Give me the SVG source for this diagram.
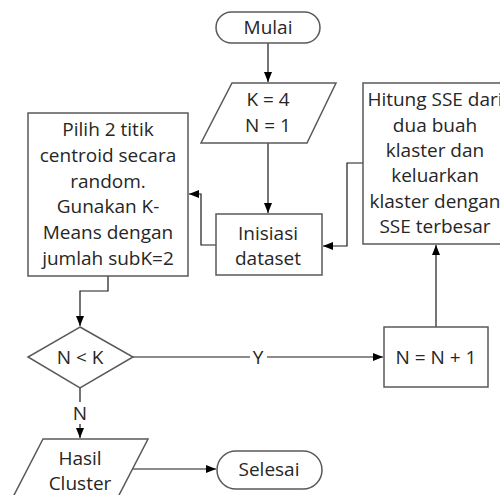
<svg xmlns="http://www.w3.org/2000/svg" width="500" height="495" viewBox="0 0 500 495">
<defs>
<marker id="arr" markerWidth="10" markerHeight="8" refX="10" refY="4" orient="auto" markerUnits="userSpaceOnUse">
<path d="M0,0 L10,4 L0,8 Z" fill="#000"/>
</marker>
<style>
.shape{fill:#fff;stroke:#595959;stroke-width:1.5}
.conn{fill:none;stroke:#1a1a1a;stroke-width:1.2}
text{font-family:"Open Sans","Liberation Sans",sans-serif;font-size:19px;fill:#262626;text-anchor:middle}
</style>
</defs>
<rect width="500" height="495" fill="#fff"/>
<g id="connectors">
<path class="conn" d="M268,43 V82" marker-end="url(#arr)"/>
<path class="conn" d="M268,143 V213" marker-end="url(#arr)"/>
<path class="conn" d="M216,245 H201 V194 H189" marker-end="url(#arr)"/>
<path class="conn" d="M363,163 H347 V246 H323" marker-end="url(#arr)"/>
<path class="conn" d="M108,276 V291 H80 V326" marker-end="url(#arr)"/>
<path class="conn" d="M133,357 H250 M267,357 H383" marker-end="url(#arr)"/>
<path class="conn" d="M436,327 V245" marker-end="url(#arr)"/>
<path class="conn" d="M80,388 V402 M80,424 V438" marker-end="url(#arr)"/>
<path class="conn" d="M133,469 H216" marker-end="url(#arr)"/>
<text x="258" y="364">Y</text>
<text x="80" y="420">N</text>
</g>
<g id="mulai">
<rect class="shape" x="216" y="12" width="104" height="31" rx="15.5"/>
<text x="268" y="34">Mulai</text>
</g>
<g id="input">
<path class="shape" d="M232,83 H336 L307,143 H201 Z"/>
<text x="268" y="106">K = 4</text>
<text x="268" y="132">N = 1</text>
</g>
<g id="inisiasi">
<rect class="shape" x="216" y="214" width="106" height="61"/>
<text x="268" y="240">Inisiasi</text>
<text x="268" y="265">dataset</text>
</g>
<g id="pilih">
<rect class="shape" x="28" y="113" width="160" height="163"/>
<text x="108" y="136">Pilih 2 titik</text>
<text x="108" y="162">centroid secara</text>
<text x="108" y="188">random.</text>
<text x="108" y="213">Gunakan K-</text>
<text x="108" y="239">Means dengan</text>
<text x="108" y="265">jumlah subK=2</text>
</g>
<g id="hitung">
<rect class="shape" x="363" y="83" width="144" height="161"/>
<text x="435" y="106">Hitung SSE dari</text>
<text x="435" y="132">dua buah</text>
<text x="435" y="157">klaster dan</text>
<text x="435" y="182">keluarkan</text>
<text x="435" y="208">klaster dengan</text>
<text x="435" y="233">SSE terbesar</text>
</g>
<g id="decision">
<path class="shape" d="M80,327 L133,357 L80,388 L28,357 Z"/>
<text x="80" y="364">N &lt; K</text>
</g>
<g id="increment">
<rect class="shape" x="384" y="327" width="104" height="60"/>
<text x="436" y="364">N = N + 1</text>
</g>
<g id="hasil">
<path class="shape" d="M43,439 H148 L117,499 H12 Z"/>
<text x="80" y="465">Hasil</text>
<text x="80" y="490">Cluster</text>
</g>
<g id="selesai">
<rect class="shape" x="217" y="451" width="105" height="38" rx="19"/>
<text x="269" y="476">Selesai</text>
</g>
</svg>
